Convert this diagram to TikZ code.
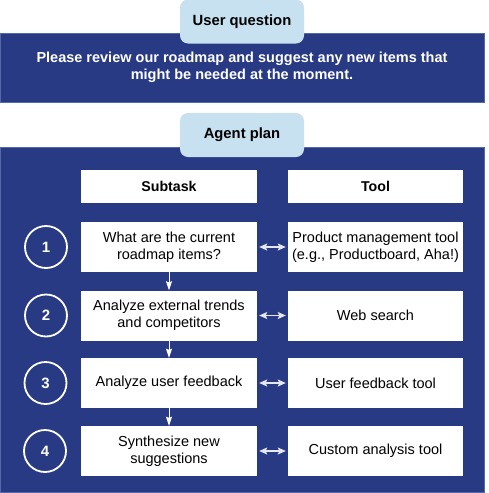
\documentclass[tikz,border=0pt]{standalone}
\usepackage{fontspec}
\setmainfont{Liberation Sans}
\usetikzlibrary{arrows.meta}
\definecolor{navy}{RGB}{41,58,133}
\definecolor{navyedge}{RGB}{84,104,170}
\definecolor{tabblue}{RGB}{199,225,240}
\tikzset{
  band/.style={fill=navy, draw=navyedge, line width=0.8pt},
  tab/.style={fill=tabblue, rounded corners=8pt, minimum width=124pt, minimum height=44pt, inner sep=0pt, font=\fontsize{14.8}{17}\selectfont\bfseries},
  hdr/.style={fill=white, minimum height=33pt, inner sep=0pt, font=\fontsize{14.2}{17}\selectfont\bfseries},
  box/.style={fill=white, minimum height=50pt, inner sep=0pt, align=center, font=\fontsize{14.5}{16.8}\selectfont},
  num/.style={circle, draw=white, line width=1.8pt, minimum size=42pt, inner sep=0pt, text=white, font=\fontsize{15}{17}\selectfont\bfseries},
  varrow/.style={draw=white, line width=1pt, -{Stealth[length=9pt,width=6pt,inset=1pt]}},
  harrow/.style={draw=white!88!navy, line width=1.3pt, {Stealth[length=8pt,width=7pt,inset=1.5pt]}-{Stealth[length=8pt,width=7pt,inset=1.5pt]}, shorten >=2pt, shorten <=2pt},
}
\begin{document}
\begin{tikzpicture}[x=1pt,y=-1pt]
\useasboundingbox (0,0) rectangle (489,493);
% bands
\path[band] (0,33) rectangle (484,102);
\path[band] (0,147) rectangle (484,492);
% tabs
\node[tab] (uq) at (242,21.5) {User question};
\node[tab] (ap) at (242,135) {Agent plan};
% question text
\node[text=white, align=center, font=\fontsize{14.5}{17}\selectfont\bfseries] (qt) at (242,67) {Please review our roadmap and suggest any new items that\\might be needed at the moment.};
% headers
\node[hdr, minimum width=176pt] (sh) at (169,186.5) {Subtask};
\node[hdr, minimum width=175pt] (th) at (375.5,186.5) {Tool};
% rows
\node[box, minimum width=176pt] (s1) at (169,247) {What are the current\\roadmap items?};
\node[box, minimum width=175pt] (t1) at (375.5,247) {Product management tool\\(e.g., Productboard, Aha!)};
\node[box, minimum width=176pt] (s2) at (169,315.5) {Analyze external trends\\and competitors};
\node[box, minimum width=175pt] (t2) at (375.5,315.5) {Web search};
\node[box, minimum width=176pt] (s3) at (169,383) {Analyze user feedback};
\node[box, minimum width=175pt] (t3) at (375.5,383) {User feedback tool};
\node[box, minimum width=176pt] (s4) at (169,451) {Synthesize new\\suggestions};
\node[box, minimum width=175pt] (t4) at (375.5,451) {Custom analysis tool};
% numbers
\node[num] (n1) at (46,247) {1};
\node[num] (n2) at (46,315.5) {2};
\node[num] (n3) at (45.5,383) {3};
\node[num] (n4) at (45,451) {4};
% arrows
\draw[varrow] (s1) -- (s2);
\draw[varrow] (s2) -- (s3);
\draw[varrow] (s3) -- (s4);
\draw[harrow] (s1) -- (t1);
\draw[harrow] (s2) -- (t2);
\draw[harrow] (s3) -- (t3);
\draw[harrow] (s4) -- (t4);
\end{tikzpicture}
\end{document}
